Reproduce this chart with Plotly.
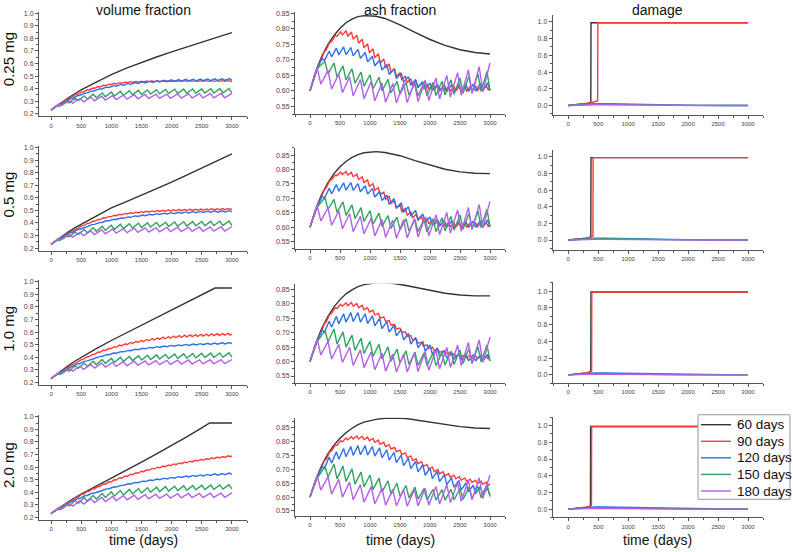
import plotly.graph_objects as go

W, H = 793, 552
FONT = "Arial, Liberation Sans, sans-serif"

DOSES = ["0.25 mg", "0.5 mg", "1.0 mg", "2.0 mg"]
COLUMNS = ["volume fraction", "ash fraction", "damage"]
INTERVALS = [60, 90, 120, 150, 180]
SERIES_LABELS = ["60 days", "90 days", "120 days", "150 days", "180 days"]
COLORS = ["#333333", "#ff3b3b", "#2f6fe8", "#2fa35f", "#b360e8"]
X_TICKS = [0, 500, 1000, 1500, 2000, 2500, 3000]
T_END = 3000

# ---------------- volume fraction ----------------
VF_D025_60_T = [0, 100, 200, 300, 400, 500, 750, 1000, 1250, 1500, 1750, 2000, 2250, 2500, 2750, 3000]
VF_D025_60_Y = [0.23, 0.266, 0.30, 0.332, 0.362, 0.39, 0.452, 0.512, 0.563, 0.61, 0.652, 0.692, 0.732, 0.77, 0.808, 0.845]
VF_D025_90_LO = [0.230, 0.259, 0.287, 0.313, 0.337, 0.357, 0.375, 0.390, 0.403, 0.414, 0.424, 0.432, 0.438, 0.443, 0.447, 0.450, 0.452, 0.454, 0.455, 0.456, 0.457, 0.457, 0.457, 0.458, 0.458, 0.458, 0.458, 0.458, 0.458, 0.458, 0.458, 0.458, 0.458, 0.458]
VF_D025_90_HI = [0.252, 0.281, 0.308, 0.333, 0.356, 0.375, 0.391, 0.405, 0.417, 0.427, 0.436, 0.443, 0.448, 0.452, 0.456, 0.458, 0.460, 0.461, 0.462, 0.463, 0.463, 0.463, 0.463, 0.463, 0.464, 0.464, 0.464, 0.464, 0.464, 0.464, 0.464, 0.464, 0.464]
VF_D025_90_END = 0.460
VF_D025_120_LO = [0.230, 0.266, 0.298, 0.325, 0.348, 0.367, 0.384, 0.398, 0.410, 0.420, 0.428, 0.435, 0.441, 0.446, 0.450, 0.453, 0.456, 0.458, 0.460, 0.461, 0.462, 0.463, 0.464, 0.465, 0.466, 0.466]
VF_D025_120_HI = [0.260, 0.292, 0.320, 0.344, 0.364, 0.382, 0.398, 0.412, 0.424, 0.434, 0.442, 0.449, 0.455, 0.460, 0.464, 0.467, 0.470, 0.472, 0.474, 0.475, 0.476, 0.477, 0.478, 0.479, 0.480]
VF_D025_150_LO = [0.230, 0.262, 0.287, 0.305, 0.318, 0.328, 0.336, 0.342, 0.347, 0.351, 0.354, 0.357, 0.359, 0.361, 0.362, 0.363, 0.364, 0.365, 0.366, 0.366, 0.367]
VF_D025_150_HI = [0.266, 0.300, 0.325, 0.343, 0.356, 0.366, 0.373, 0.379, 0.384, 0.387, 0.390, 0.392, 0.394, 0.396, 0.397, 0.398, 0.399, 0.400, 0.401, 0.402]
VF_D025_180_LO = [0.230, 0.268, 0.285, 0.296, 0.304, 0.310, 0.314, 0.317, 0.320, 0.322, 0.323, 0.324, 0.325, 0.326, 0.327, 0.327, 0.328]
VF_D025_180_HI = [0.276, 0.305, 0.322, 0.333, 0.340, 0.345, 0.349, 0.352, 0.354, 0.356, 0.357, 0.358, 0.359, 0.360, 0.361, 0.362, 0.363]

VF_D05_60_T = [0, 100, 200, 300, 400, 500, 750, 1000, 1250, 1500, 1750, 2000, 2250, 2500, 2750, 3000]
VF_D05_60_Y = [0.23, 0.266, 0.30, 0.333, 0.363, 0.39, 0.457, 0.52, 0.57, 0.62, 0.672, 0.725, 0.78, 0.835, 0.892, 0.95]
VF_D05_90_LO = [0.230, 0.259, 0.287, 0.313, 0.337, 0.359, 0.379, 0.397, 0.413, 0.427, 0.439, 0.449, 0.458, 0.465, 0.471, 0.476, 0.480, 0.484, 0.487, 0.490, 0.492, 0.494, 0.496, 0.497, 0.498, 0.499, 0.500, 0.501, 0.502, 0.503, 0.504, 0.505, 0.506, 0.507]
VF_D05_90_HI = [0.252, 0.281, 0.308, 0.333, 0.356, 0.377, 0.396, 0.413, 0.428, 0.441, 0.452, 0.461, 0.469, 0.476, 0.481, 0.486, 0.490, 0.493, 0.496, 0.499, 0.501, 0.503, 0.505, 0.506, 0.507, 0.508, 0.509, 0.510, 0.511, 0.512, 0.513, 0.514, 0.515]
VF_D05_90_END = 0.511
VF_D05_120_LO = [0.230, 0.266, 0.298, 0.326, 0.350, 0.371, 0.389, 0.404, 0.417, 0.428, 0.437, 0.445, 0.452, 0.458, 0.463, 0.467, 0.471, 0.474, 0.477, 0.479, 0.481, 0.483, 0.485, 0.486, 0.487, 0.488]
VF_D05_120_HI = [0.260, 0.293, 0.322, 0.347, 0.368, 0.387, 0.403, 0.417, 0.429, 0.439, 0.448, 0.456, 0.463, 0.469, 0.474, 0.478, 0.482, 0.485, 0.488, 0.490, 0.492, 0.494, 0.496, 0.497, 0.498]
VF_D05_150_LO = [0.230, 0.262, 0.289, 0.308, 0.322, 0.333, 0.342, 0.349, 0.355, 0.360, 0.364, 0.367, 0.370, 0.372, 0.374, 0.376, 0.377, 0.378, 0.379, 0.380, 0.381]
VF_D05_150_HI = [0.266, 0.302, 0.329, 0.348, 0.362, 0.373, 0.382, 0.389, 0.394, 0.398, 0.401, 0.404, 0.406, 0.408, 0.410, 0.411, 0.412, 0.413, 0.414, 0.415]
VF_D05_180_LO = [0.230, 0.268, 0.287, 0.299, 0.308, 0.314, 0.319, 0.323, 0.326, 0.328, 0.330, 0.331, 0.332, 0.333, 0.334, 0.335, 0.336]
VF_D05_180_HI = [0.276, 0.307, 0.325, 0.337, 0.345, 0.351, 0.355, 0.358, 0.361, 0.363, 0.365, 0.366, 0.367, 0.368, 0.369, 0.370, 0.372]

VF_D10_60_T = [0, 100, 200, 300, 400, 500, 750, 1000, 1250, 1500, 1750, 2000, 2250, 2500, 2720, 3000]
VF_D10_60_Y = [0.23, 0.268, 0.303, 0.338, 0.37, 0.40, 0.468, 0.533, 0.594, 0.654, 0.714, 0.773, 0.832, 0.893, 0.95, 0.95]
VF_D10_90_LO = [0.230, 0.259, 0.288, 0.315, 0.340, 0.363, 0.385, 0.405, 0.423, 0.439, 0.454, 0.467, 0.479, 0.490, 0.500, 0.509, 0.517, 0.524, 0.531, 0.537, 0.542, 0.547, 0.551, 0.555, 0.558, 0.561, 0.564, 0.566, 0.568, 0.570, 0.572, 0.574, 0.575, 0.576]
VF_D10_90_HI = [0.252, 0.282, 0.310, 0.336, 0.360, 0.383, 0.404, 0.423, 0.441, 0.457, 0.471, 0.484, 0.496, 0.507, 0.517, 0.526, 0.534, 0.541, 0.548, 0.554, 0.559, 0.564, 0.568, 0.572, 0.575, 0.578, 0.580, 0.582, 0.584, 0.586, 0.587, 0.588, 0.589]
VF_D10_90_END = 0.584
VF_D10_120_LO = [0.230, 0.266, 0.298, 0.326, 0.350, 0.371, 0.390, 0.406, 0.420, 0.432, 0.443, 0.452, 0.460, 0.467, 0.473, 0.478, 0.483, 0.487, 0.491, 0.494, 0.497, 0.500, 0.502, 0.504, 0.506, 0.508]
VF_D10_120_HI = [0.260, 0.293, 0.322, 0.347, 0.369, 0.388, 0.405, 0.420, 0.433, 0.444, 0.454, 0.463, 0.471, 0.478, 0.484, 0.489, 0.494, 0.498, 0.502, 0.505, 0.508, 0.511, 0.513, 0.515, 0.517]
VF_D10_150_LO = [0.230, 0.262, 0.290, 0.311, 0.327, 0.340, 0.351, 0.360, 0.367, 0.373, 0.378, 0.382, 0.386, 0.389, 0.391, 0.393, 0.395, 0.397, 0.398, 0.399, 0.400]
VF_D10_150_HI = [0.266, 0.303, 0.332, 0.353, 0.368, 0.381, 0.391, 0.399, 0.406, 0.411, 0.415, 0.419, 0.422, 0.425, 0.427, 0.429, 0.431, 0.433, 0.434, 0.435]
VF_D10_180_LO = [0.230, 0.268, 0.289, 0.303, 0.313, 0.321, 0.327, 0.332, 0.336, 0.339, 0.341, 0.343, 0.345, 0.346, 0.347, 0.348, 0.349]
VF_D10_180_HI = [0.276, 0.309, 0.329, 0.342, 0.352, 0.359, 0.364, 0.368, 0.371, 0.373, 0.375, 0.377, 0.378, 0.379, 0.380, 0.381, 0.382]

VF_D20_60_T = [0, 100, 200, 300, 400, 500, 750, 1000, 1250, 1500, 1750, 2000, 2250, 2500, 2630, 3000]
VF_D20_60_Y = [0.23, 0.265, 0.297, 0.328, 0.357, 0.385, 0.448, 0.51, 0.575, 0.64, 0.705, 0.77, 0.84, 0.912, 0.95, 0.95]
VF_D20_90_LO = [0.230, 0.256, 0.285, 0.312, 0.338, 0.362, 0.385, 0.407, 0.427, 0.446, 0.464, 0.481, 0.497, 0.512, 0.526, 0.539, 0.551, 0.563, 0.574, 0.584, 0.594, 0.603, 0.611, 0.619, 0.627, 0.634, 0.641, 0.648, 0.654, 0.660, 0.666, 0.672, 0.677, 0.682]
VF_D20_90_HI = [0.252, 0.281, 0.309, 0.336, 0.361, 0.385, 0.407, 0.428, 0.447, 0.466, 0.483, 0.499, 0.515, 0.529, 0.543, 0.555, 0.567, 0.578, 0.589, 0.599, 0.608, 0.617, 0.625, 0.633, 0.640, 0.647, 0.654, 0.661, 0.667, 0.673, 0.679, 0.684, 0.689]
VF_D20_90_END = 0.688
VF_D20_120_LO = [0.230, 0.266, 0.298, 0.327, 0.352, 0.374, 0.394, 0.412, 0.428, 0.442, 0.455, 0.466, 0.476, 0.485, 0.493, 0.500, 0.506, 0.512, 0.517, 0.522, 0.526, 0.530, 0.533, 0.536, 0.539, 0.541]
VF_D20_120_HI = [0.260, 0.293, 0.323, 0.349, 0.372, 0.392, 0.410, 0.427, 0.442, 0.455, 0.467, 0.478, 0.488, 0.497, 0.505, 0.512, 0.518, 0.524, 0.529, 0.534, 0.538, 0.542, 0.546, 0.549, 0.552]
VF_D20_150_LO = [0.230, 0.262, 0.291, 0.313, 0.331, 0.346, 0.359, 0.370, 0.379, 0.387, 0.394, 0.400, 0.405, 0.409, 0.413, 0.416, 0.419, 0.421, 0.423, 0.425, 0.427]
VF_D20_150_HI = [0.266, 0.304, 0.334, 0.357, 0.375, 0.390, 0.403, 0.414, 0.423, 0.430, 0.436, 0.441, 0.445, 0.448, 0.451, 0.453, 0.455, 0.457, 0.458, 0.459]
VF_D20_180_LO = [0.230, 0.268, 0.290, 0.306, 0.318, 0.327, 0.334, 0.340, 0.344, 0.348, 0.351, 0.353, 0.355, 0.357, 0.358, 0.359, 0.360]
VF_D20_180_HI = [0.276, 0.310, 0.333, 0.348, 0.359, 0.367, 0.373, 0.377, 0.381, 0.384, 0.386, 0.388, 0.390, 0.391, 0.392, 0.393, 0.395]

# ---------------- ash fraction ----------------
AF_D025_60_T = [0, 50, 100, 150, 200, 300, 400, 500, 600, 700, 800, 900, 1000, 1100, 1250, 1500, 1750, 2000, 2250, 2500, 2750, 3000]
AF_D025_60_Y = [0.600, 0.635, 0.665, 0.69, 0.713, 0.75, 0.779, 0.802, 0.82, 0.832, 0.84, 0.843, 0.843, 0.841, 0.834, 0.813, 0.789, 0.766, 0.747, 0.733, 0.724, 0.719]
AF_D025_90_LO = [0.600, 0.652, 0.697, 0.732, 0.759, 0.776, 0.781, 0.777, 0.767, 0.754, 0.739, 0.723, 0.707, 0.690, 0.674, 0.659, 0.646, 0.635, 0.626, 0.619, 0.613, 0.609, 0.606, 0.604, 0.602, 0.601, 0.600, 0.600, 0.600, 0.600, 0.601, 0.601, 0.602, 0.603]
AF_D025_90_HI = [0.640, 0.690, 0.728, 0.757, 0.779, 0.791, 0.794, 0.790, 0.780, 0.767, 0.752, 0.736, 0.720, 0.703, 0.687, 0.672, 0.659, 0.648, 0.639, 0.632, 0.626, 0.622, 0.619, 0.617, 0.615, 0.614, 0.614, 0.614, 0.614, 0.614, 0.615, 0.615, 0.616]
AF_D025_90_END = 0.610
AF_D025_120_LO = [0.600, 0.670, 0.698, 0.710, 0.716, 0.717, 0.713, 0.705, 0.694, 0.681, 0.667, 0.653, 0.640, 0.628, 0.618, 0.610, 0.605, 0.601, 0.599, 0.598, 0.598, 0.598, 0.598, 0.599, 0.600, 0.601]
AF_D025_120_HI = [0.653, 0.705, 0.728, 0.738, 0.742, 0.740, 0.734, 0.724, 0.712, 0.699, 0.685, 0.671, 0.658, 0.646, 0.637, 0.630, 0.625, 0.622, 0.620, 0.620, 0.620, 0.621, 0.622, 0.624, 0.626]
AF_D025_150_LO = [0.600, 0.678, 0.655, 0.645, 0.635, 0.625, 0.615, 0.607, 0.600, 0.594, 0.589, 0.586, 0.584, 0.584, 0.585, 0.587, 0.589, 0.592, 0.595, 0.598, 0.601]
AF_D025_150_HI = [0.665, 0.695, 0.690, 0.681, 0.671, 0.661, 0.652, 0.644, 0.637, 0.631, 0.627, 0.625, 0.625, 0.627, 0.631, 0.636, 0.642, 0.648, 0.655, 0.663]
AF_D025_180_LO = [0.600, 0.622, 0.606, 0.594, 0.584, 0.575, 0.568, 0.563, 0.561, 0.562, 0.565, 0.569, 0.574, 0.580, 0.586, 0.592, 0.598]
AF_D025_180_HI = [0.675, 0.666, 0.655, 0.645, 0.637, 0.630, 0.626, 0.624, 0.625, 0.629, 0.635, 0.642, 0.650, 0.659, 0.668, 0.678, 0.690]

AF_D05_60_T = [0, 50, 100, 150, 200, 300, 400, 500, 600, 700, 800, 900, 1000, 1100, 1250, 1500, 1750, 2000, 2250, 2500, 2750, 3000]
AF_D05_60_Y = [0.600, 0.635, 0.665, 0.692, 0.716, 0.755, 0.786, 0.81, 0.828, 0.842, 0.852, 0.858, 0.861, 0.862, 0.859, 0.848, 0.831, 0.815, 0.801, 0.792, 0.787, 0.786]
AF_D05_90_LO = [0.600, 0.652, 0.699, 0.737, 0.765, 0.779, 0.783, 0.781, 0.775, 0.766, 0.755, 0.742, 0.728, 0.713, 0.697, 0.682, 0.667, 0.654, 0.642, 0.632, 0.624, 0.617, 0.612, 0.608, 0.605, 0.603, 0.602, 0.601, 0.601, 0.601, 0.601, 0.602, 0.602, 0.603]
AF_D05_90_HI = [0.640, 0.690, 0.731, 0.762, 0.781, 0.791, 0.793, 0.790, 0.784, 0.775, 0.764, 0.751, 0.737, 0.722, 0.707, 0.692, 0.678, 0.665, 0.654, 0.645, 0.637, 0.631, 0.626, 0.622, 0.619, 0.617, 0.616, 0.615, 0.615, 0.615, 0.615, 0.616, 0.616]
AF_D05_90_END = 0.610
AF_D05_120_LO = [0.600, 0.670, 0.700, 0.716, 0.725, 0.729, 0.728, 0.723, 0.715, 0.705, 0.693, 0.680, 0.666, 0.652, 0.639, 0.627, 0.617, 0.609, 0.604, 0.601, 0.599, 0.599, 0.599, 0.600, 0.601, 0.602]
AF_D05_120_HI = [0.653, 0.708, 0.735, 0.748, 0.754, 0.755, 0.751, 0.744, 0.735, 0.724, 0.712, 0.699, 0.685, 0.671, 0.658, 0.646, 0.636, 0.629, 0.624, 0.621, 0.620, 0.620, 0.621, 0.623, 0.626]
AF_D05_150_LO = [0.600, 0.678, 0.662, 0.652, 0.641, 0.630, 0.620, 0.611, 0.603, 0.596, 0.591, 0.587, 0.585, 0.584, 0.585, 0.587, 0.590, 0.593, 0.596, 0.599, 0.602]
AF_D05_150_HI = [0.665, 0.703, 0.697, 0.688, 0.678, 0.668, 0.658, 0.649, 0.641, 0.635, 0.630, 0.627, 0.627, 0.629, 0.633, 0.638, 0.643, 0.649, 0.656, 0.663]
AF_D05_180_LO = [0.600, 0.622, 0.607, 0.595, 0.585, 0.577, 0.570, 0.565, 0.562, 0.563, 0.566, 0.570, 0.575, 0.580, 0.586, 0.592, 0.598]
AF_D05_180_HI = [0.676, 0.667, 0.657, 0.647, 0.638, 0.632, 0.627, 0.625, 0.626, 0.630, 0.636, 0.643, 0.651, 0.660, 0.669, 0.679, 0.690]

AF_D10_60_T = [0, 50, 100, 150, 200, 300, 400, 500, 600, 700, 800, 900, 1000, 1100, 1250, 1400, 1600, 1800, 2000, 2250, 2500, 2750, 3000]
AF_D10_60_Y = [0.600, 0.635, 0.665, 0.692, 0.717, 0.757, 0.79, 0.815, 0.835, 0.849, 0.86, 0.867, 0.871, 0.873, 0.873, 0.871, 0.864, 0.855, 0.846, 0.837, 0.831, 0.828, 0.828]
AF_D10_90_LO = [0.600, 0.652, 0.699, 0.737, 0.767, 0.784, 0.792, 0.794, 0.792, 0.787, 0.780, 0.772, 0.762, 0.751, 0.739, 0.726, 0.713, 0.700, 0.687, 0.675, 0.664, 0.654, 0.645, 0.638, 0.632, 0.627, 0.623, 0.619, 0.616, 0.614, 0.612, 0.611, 0.610, 0.610]
AF_D10_90_HI = [0.640, 0.691, 0.732, 0.764, 0.787, 0.799, 0.804, 0.805, 0.801, 0.795, 0.787, 0.778, 0.767, 0.755, 0.742, 0.729, 0.716, 0.703, 0.690, 0.678, 0.667, 0.658, 0.650, 0.643, 0.637, 0.632, 0.628, 0.625, 0.623, 0.621, 0.620, 0.619, 0.619]
AF_D10_90_END = 0.615
AF_D10_120_LO = [0.600, 0.670, 0.702, 0.720, 0.731, 0.737, 0.739, 0.737, 0.732, 0.724, 0.714, 0.702, 0.689, 0.675, 0.661, 0.648, 0.636, 0.626, 0.618, 0.612, 0.608, 0.605, 0.603, 0.602, 0.602, 0.603]
AF_D10_120_HI = [0.653, 0.710, 0.740, 0.757, 0.766, 0.770, 0.770, 0.766, 0.759, 0.750, 0.739, 0.726, 0.712, 0.698, 0.684, 0.670, 0.658, 0.647, 0.638, 0.632, 0.628, 0.625, 0.624, 0.624, 0.625]
AF_D10_150_LO = [0.600, 0.678, 0.668, 0.661, 0.650, 0.639, 0.628, 0.618, 0.609, 0.601, 0.595, 0.590, 0.587, 0.586, 0.586, 0.588, 0.590, 0.593, 0.596, 0.599, 0.602]
AF_D10_150_HI = [0.665, 0.708, 0.713, 0.703, 0.692, 0.681, 0.670, 0.660, 0.651, 0.643, 0.637, 0.633, 0.630, 0.630, 0.632, 0.636, 0.640, 0.645, 0.651, 0.658]
AF_D10_180_LO = [0.600, 0.623, 0.609, 0.597, 0.587, 0.579, 0.572, 0.567, 0.564, 0.564, 0.566, 0.570, 0.575, 0.580, 0.586, 0.592, 0.597]
AF_D10_180_HI = [0.677, 0.670, 0.660, 0.650, 0.641, 0.634, 0.629, 0.626, 0.626, 0.629, 0.634, 0.641, 0.649, 0.657, 0.666, 0.675, 0.685]

AF_D20_60_T = [0, 50, 100, 150, 200, 300, 400, 500, 600, 700, 800, 900, 1000, 1100, 1250, 1400, 1600, 1800, 2000, 2250, 2500, 2750, 3000]
AF_D20_60_Y = [0.600, 0.635, 0.665, 0.692, 0.717, 0.757, 0.788, 0.813, 0.833, 0.849, 0.862, 0.871, 0.877, 0.881, 0.885, 0.886, 0.884, 0.878, 0.871, 0.862, 0.855, 0.85, 0.848]
AF_D20_90_LO = [0.600, 0.652, 0.699, 0.737, 0.767, 0.787, 0.800, 0.807, 0.810, 0.810, 0.808, 0.804, 0.798, 0.791, 0.783, 0.774, 0.764, 0.754, 0.743, 0.732, 0.721, 0.711, 0.701, 0.692, 0.684, 0.677, 0.671, 0.666, 0.661, 0.657, 0.653, 0.649, 0.646, 0.643]
AF_D20_90_HI = [0.640, 0.691, 0.732, 0.764, 0.788, 0.804, 0.814, 0.819, 0.821, 0.820, 0.817, 0.812, 0.806, 0.798, 0.789, 0.780, 0.770, 0.760, 0.749, 0.738, 0.728, 0.718, 0.709, 0.700, 0.692, 0.685, 0.679, 0.674, 0.669, 0.665, 0.661, 0.657, 0.654]
AF_D20_90_END = 0.648
AF_D20_120_LO = [0.600, 0.670, 0.703, 0.723, 0.737, 0.746, 0.751, 0.753, 0.752, 0.748, 0.742, 0.734, 0.725, 0.714, 0.703, 0.691, 0.679, 0.667, 0.656, 0.645, 0.635, 0.626, 0.619, 0.613, 0.608, 0.606]
AF_D20_120_HI = [0.653, 0.712, 0.745, 0.764, 0.776, 0.783, 0.786, 0.786, 0.783, 0.778, 0.771, 0.762, 0.752, 0.741, 0.729, 0.717, 0.705, 0.693, 0.681, 0.670, 0.660, 0.651, 0.643, 0.637, 0.632]
AF_D20_150_LO = [0.600, 0.678, 0.672, 0.666, 0.657, 0.647, 0.637, 0.627, 0.618, 0.610, 0.603, 0.597, 0.593, 0.590, 0.589, 0.589, 0.590, 0.592, 0.595, 0.598, 0.602]
AF_D20_150_HI = [0.665, 0.712, 0.720, 0.712, 0.702, 0.691, 0.680, 0.669, 0.659, 0.650, 0.642, 0.636, 0.631, 0.628, 0.627, 0.628, 0.631, 0.635, 0.640, 0.646]
AF_D20_180_LO = [0.600, 0.625, 0.611, 0.600, 0.590, 0.582, 0.576, 0.571, 0.568, 0.567, 0.568, 0.571, 0.575, 0.580, 0.585, 0.590, 0.595]
AF_D20_180_HI = [0.679, 0.673, 0.664, 0.654, 0.645, 0.638, 0.632, 0.628, 0.627, 0.628, 0.632, 0.638, 0.645, 0.653, 0.661, 0.670, 0.680]

# ---------------- damage ----------------
DM_D025_60_T = [0, 100, 200, 300, 350, 376, 379, 3000]
DM_D025_60_Y = [0, 0.006, 0.013, 0.023, 0.031, 0.040, 0.99, 0.99]
DM_D025_90_T = [0, 100, 200, 300, 400, 450, 490, 493, 3000]
DM_D025_90_Y = [0, 0.006, 0.013, 0.023, 0.036, 0.046, 0.058, 0.99, 0.99]
DM_D05_60_T = [0, 100, 200, 300, 350, 376, 379, 3000]
DM_D05_60_Y = [0, 0.006, 0.013, 0.023, 0.031, 0.040, 0.99, 0.99]
DM_D05_90_T = [0, 100, 200, 300, 380, 412, 415, 3000]
DM_D05_90_Y = [0, 0.006, 0.013, 0.023, 0.036, 0.046, 0.99, 0.99]
DM_D10_60_T = [0, 100, 200, 300, 350, 376, 379, 3000]
DM_D10_60_Y = [0, 0.006, 0.013, 0.023, 0.031, 0.040, 0.99, 0.99]
DM_D10_90_T = [0, 100, 200, 300, 360, 390, 393, 3000]
DM_D10_90_Y = [0, 0.006, 0.013, 0.023, 0.033, 0.043, 0.99, 0.99]
DM_D20_60_T = [0, 100, 200, 300, 350, 370, 373, 3000]
DM_D20_60_Y = [0, 0.006, 0.013, 0.023, 0.031, 0.040, 0.99, 0.99]
DM_D20_90_T = [0, 100, 200, 300, 360, 387, 390, 3000]
DM_D20_90_Y = [0, 0.006, 0.013, 0.023, 0.033, 0.043, 0.99, 0.99]

DM_SLOW_T = [0, 150, 300, 450, 600, 800, 1000, 1300, 1600, 1900, 2200, 2600, 3000]
DM_D025_120_Y = [0, 0.008, 0.017, 0.022, 0.021, 0.018, 0.014, 0.009, 0.005, 0.002, 0.001, 0.0, 0.0]
DM_D05_120_Y = [0, 0.008, 0.018, 0.023, 0.022, 0.019, 0.016, 0.011, 0.007, 0.004, 0.002, 0.001, 0.0]
DM_D10_120_Y = [0, 0.008, 0.018, 0.024, 0.024, 0.021, 0.018, 0.013, 0.009, 0.005, 0.003, 0.001, 0.0]
DM_D20_120_Y = [0, 0.009, 0.019, 0.026, 0.026, 0.023, 0.020, 0.015, 0.011, 0.007, 0.004, 0.002, 0.001]
DM_150_Y = [0, 0.007, 0.014, 0.017, 0.016, 0.013, 0.010, 0.007, 0.004, 0.002, 0.001, 0.0, 0.0]
DM_180_Y = [0, 0.005, 0.009, 0.009, 0.008, 0.006, 0.005, 0.003, 0.002, 0.001, 0.0, 0.0, 0.0]


def sawtooth(period, lows, highs, last=None):
    """Troughs at each dosing day, peaks two thirds of the way through each interval."""
    xs, ys = [], []
    for k, lo in enumerate(lows):
        xs.append(k * period)
        ys.append(lo)
        if k < len(highs):
            xs.append(k * period + period * 2.0 / 3.0)
            ys.append(highs[k])
    if last is not None:
        xs.append(T_END)
        ys.append(last)
    return xs, ys


def panel_vf(t60, y60, lo90, hi90, end90, lo120, hi120, lo150, hi150, lo180, hi180):
    return [
        (t60, y60),
        sawtooth(INTERVALS[1], lo90, hi90, end90),
        sawtooth(INTERVALS[2], lo120, hi120),
        sawtooth(INTERVALS[3], lo150, hi150),
        sawtooth(INTERVALS[4], lo180, hi180),
    ]


PANELS = [
    # row 0.25 mg
    panel_vf(VF_D025_60_T, VF_D025_60_Y, VF_D025_90_LO, VF_D025_90_HI, VF_D025_90_END, VF_D025_120_LO, VF_D025_120_HI, VF_D025_150_LO, VF_D025_150_HI, VF_D025_180_LO, VF_D025_180_HI),
    panel_vf(AF_D025_60_T, AF_D025_60_Y, AF_D025_90_LO, AF_D025_90_HI, AF_D025_90_END, AF_D025_120_LO, AF_D025_120_HI, AF_D025_150_LO, AF_D025_150_HI, AF_D025_180_LO, AF_D025_180_HI),
    [(DM_D025_60_T, DM_D025_60_Y), (DM_D025_90_T, DM_D025_90_Y), (DM_SLOW_T, DM_D025_120_Y), (DM_SLOW_T, DM_150_Y), (DM_SLOW_T, DM_180_Y)],
    # row 0.5 mg
    panel_vf(VF_D05_60_T, VF_D05_60_Y, VF_D05_90_LO, VF_D05_90_HI, VF_D05_90_END, VF_D05_120_LO, VF_D05_120_HI, VF_D05_150_LO, VF_D05_150_HI, VF_D05_180_LO, VF_D05_180_HI),
    panel_vf(AF_D05_60_T, AF_D05_60_Y, AF_D05_90_LO, AF_D05_90_HI, AF_D05_90_END, AF_D05_120_LO, AF_D05_120_HI, AF_D05_150_LO, AF_D05_150_HI, AF_D05_180_LO, AF_D05_180_HI),
    [(DM_D05_60_T, DM_D05_60_Y), (DM_D05_90_T, DM_D05_90_Y), (DM_SLOW_T, DM_D05_120_Y), (DM_SLOW_T, DM_150_Y), (DM_SLOW_T, DM_180_Y)],
    # row 1.0 mg
    panel_vf(VF_D10_60_T, VF_D10_60_Y, VF_D10_90_LO, VF_D10_90_HI, VF_D10_90_END, VF_D10_120_LO, VF_D10_120_HI, VF_D10_150_LO, VF_D10_150_HI, VF_D10_180_LO, VF_D10_180_HI),
    panel_vf(AF_D10_60_T, AF_D10_60_Y, AF_D10_90_LO, AF_D10_90_HI, AF_D10_90_END, AF_D10_120_LO, AF_D10_120_HI, AF_D10_150_LO, AF_D10_150_HI, AF_D10_180_LO, AF_D10_180_HI),
    [(DM_D10_60_T, DM_D10_60_Y), (DM_D10_90_T, DM_D10_90_Y), (DM_SLOW_T, DM_D10_120_Y), (DM_SLOW_T, DM_150_Y), (DM_SLOW_T, DM_180_Y)],
    # row 2.0 mg
    panel_vf(VF_D20_60_T, VF_D20_60_Y, VF_D20_90_LO, VF_D20_90_HI, VF_D20_90_END, VF_D20_120_LO, VF_D20_120_HI, VF_D20_150_LO, VF_D20_150_HI, VF_D20_180_LO, VF_D20_180_HI),
    panel_vf(AF_D20_60_T, AF_D20_60_Y, AF_D20_90_LO, AF_D20_90_HI, AF_D20_90_END, AF_D20_120_LO, AF_D20_120_HI, AF_D20_150_LO, AF_D20_150_HI, AF_D20_180_LO, AF_D20_180_HI),
    [(DM_D20_60_T, DM_D20_60_Y), (DM_D20_90_T, DM_D20_90_Y), (DM_SLOW_T, DM_D20_120_Y), (DM_SLOW_T, DM_150_Y), (DM_SLOW_T, DM_180_Y)],
]

# ---------------- layout geometry (pixels) ----------------
COL_PX = [(39, 247), (295, 505), (552.7, 763)]
X_RANGES = [[-200, 3250], [-250, 3250], [-260, 3250]]
# (top_px, bottom_px, y_range) per row, per column
Y_GEOM = [
    [(10, 115, [0.18, 1.01]), (10, 112.7, [0.525, 0.855]), (13.3, 113.3, [-0.11, 1.08])],
    [(145, 250, [0.18, 1.01]), (146.7, 248.3, [0.525, 0.875]), (149, 249, [-0.116, 1.08])],
    [(280, 385, [0.18, 1.01]), (283.3, 383.3, [0.525, 0.87]), (281.7, 383.3, [-0.1, 1.107])],
    [(415.7, 520.8, [0.18, 1.01]), (418, 517, [0.531, 0.887]), (417.3, 518.3, [-0.1, 1.103])],
]
Y_TICKS = [
    dict(dtick=0.1, tick0=0.2, tickformat=".1f", minor_dtick=0.05),
    dict(dtick=0.05, tick0=0.55, tickformat=".2f", minor_dtick=0.025),
    dict(dtick=0.2, tick0=0.0, tickformat=".1f", minor_dtick=0.1),
]
ROW_LABEL_Y = [58, 194, 329, 466]


def fx(px):
    return px / W


def fy(py):
    return 1 - py / H


AX_COLOR = "#555555"
fig = go.Figure()
layout = dict(
    width=W, height=H, autosize=False,
    margin=dict(l=0, r=0, t=0, b=0),
    paper_bgcolor="white", plot_bgcolor="white",
    showlegend=False,
    font=dict(family=FONT, color="#222222"),
)

for r in range(4):
    for c in range(3):
        n = r * 3 + c + 1
        sfx = "" if n == 1 else str(n)
        top, bot, yr = Y_GEOM[r][c]
        layout["xaxis" + sfx] = dict(
            domain=[fx(COL_PX[c][0]), fx(COL_PX[c][1])], range=X_RANGES[c],
            anchor="y" + sfx, showline=True, linecolor=AX_COLOR, linewidth=1,
            ticks="outside", ticklen=3, tickwidth=1, tickcolor=AX_COLOR,
            tickvals=X_TICKS, ticktext=[str(v) for v in X_TICKS],
            tickfont=dict(size=6, color="#444444", family=FONT),
            minor=dict(ticks="outside", ticklen=2, tickcolor=AX_COLOR, dtick=250, tick0=0, showgrid=False),
            showgrid=False, zeroline=False, fixedrange=True,
        )
        yt = Y_TICKS[c]
        layout["yaxis" + sfx] = dict(
            domain=[fy(bot), fy(top)], range=yr,
            anchor="x" + sfx, showline=True, linecolor=AX_COLOR, linewidth=1,
            ticks="outside", ticklen=3, tickwidth=1, tickcolor=AX_COLOR,
            dtick=yt["dtick"], tick0=yt["tick0"], tickformat=yt["tickformat"],
            tickfont=dict(size=7, color="#444444", family=FONT),
            minor=dict(ticks="outside", ticklen=2, tickcolor=AX_COLOR, dtick=yt["minor_dtick"], showgrid=False),
            showgrid=False, zeroline=False, fixedrange=True,
        )
        for s, (xs, ys) in enumerate(PANELS[r * 3 + c]):
            fig.add_trace(go.Scatter(
                x=xs, y=ys, mode="lines", name=SERIES_LABELS[s],
                line=dict(color=COLORS[s], width=1.4),
                xaxis="x" + sfx, yaxis="y" + sfx, showlegend=False,
                hoverinfo="skip",
            ))

annotations = []
col_centers = [(a + b) / 2 for a, b in COL_PX]
for c, title in enumerate(COLUMNS):
    annotations.append(dict(text=title, x=fx(col_centers[c]), y=fy(8), xref="paper", yref="paper",
                            xanchor="center", yanchor="middle", showarrow=False,
                            font=dict(size=14, color="#111111", family=FONT)))
    annotations.append(dict(text="time (days)", x=fx(col_centers[c]), y=fy(541), xref="paper", yref="paper",
                            xanchor="center", yanchor="middle", showarrow=False,
                            font=dict(size=14, color="#111111", family=FONT)))
for r, lab in enumerate(DOSES):
    annotations.append(dict(text=lab, x=fx(8.5), y=fy(ROW_LABEL_Y[r]), xref="paper", yref="paper",
                            xanchor="center", yanchor="middle", textangle=-90, showarrow=False,
                            font=dict(size=15, color="#111111", family=FONT)))

# legend box (drawn over the last damage panel, as in the original)
shapes = [dict(type="rect", xref="paper", yref="paper", x0=fx(698), x1=fx(790), y0=fy(500), y1=fy(415),
               line=dict(color="#999999", width=1), fillcolor="white", layer="above")]
LEG_Y = [425, 441.7, 458.3, 475, 491.7]
for s, lab in enumerate(SERIES_LABELS):
    shapes.append(dict(type="line", xref="paper", yref="paper", x0=fx(701), x1=fx(731),
                       y0=fy(LEG_Y[s]), y1=fy(LEG_Y[s]), line=dict(color=COLORS[s], width=1.4), layer="above"))
    annotations.append(dict(text=lab, x=fx(735), y=fy(LEG_Y[s]), xref="paper", yref="paper",
                            xanchor="left", yanchor="middle", showarrow=False,
                            font=dict(size=13.5, color="#111111", family=FONT)))

layout["annotations"] = annotations
layout["shapes"] = shapes
fig.update_layout(**layout)
fig.write_html("out.html", config={"displayModeBar": False, "staticPlot": True},
               post_script="document.body.style.margin='0';document.body.style.padding='0';")
